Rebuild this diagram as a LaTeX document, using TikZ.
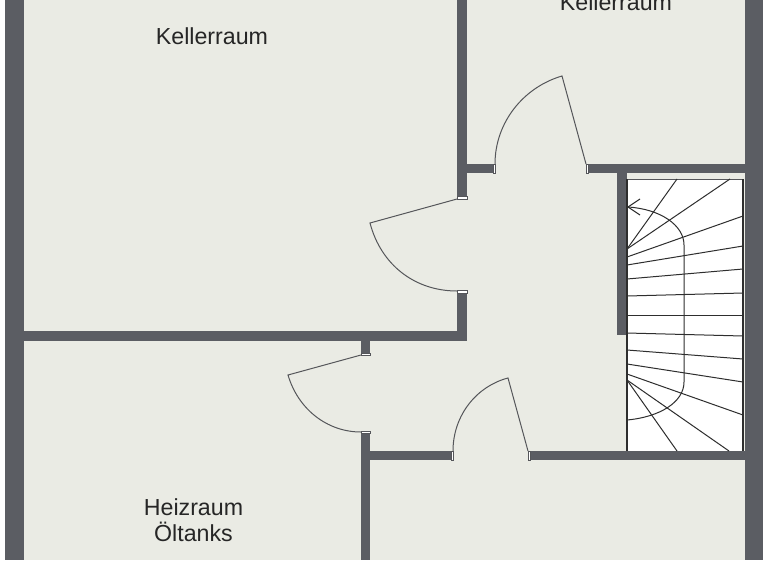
\documentclass[tikz,border=0pt]{standalone}
\usepackage{fontspec}
\setmainfont{Liberation Sans}
\definecolor{wallc}{HTML}{5B5D63}
\definecolor{floorc}{HTML}{EAEBE4}
\definecolor{linec}{HTML}{55565A}
\tikzset{x=1pt,y=-1pt,
 wall/.style={fill=wallc,draw=none},
 jamb/.style={fill=white,draw=linec,line width=.6pt},
 door/.style={draw=linec,line width=1pt},
 tread/.style={draw=black!82,line width=1pt},
 lbl/.style={font=\fontsize{23.2}{26}\selectfont,text=black!85,align=center,inner sep=0pt}}
\begin{document}
\begin{tikzpicture}
\useasboundingbox (0,0) rectangle (768,560);
\fill[white] (0,0) rectangle (768,560);
\fill[floorc] (5,0) rectangle (763,560);
% outer walls
\fill[wall] (5,0) rectangle (24,560);
\fill[wall] (745,0) rectangle (763,560);
% walls
\fill[wall] (24,331) rectangle (467,341);
\fill[wall] (457,0) rectangle (467,199);
\fill[wall] (467,164) rectangle (495,173);
\fill[wall] (588,164) rectangle (745,173);
\fill[wall] (457,291) rectangle (467,341);
\fill[wall] (361,341) rectangle (370,355);
\fill[wall] (361,432) rectangle (370,560);
\fill[wall] (370,451) rectangle (451,460);
\fill[wall] (530,451) rectangle (745,460);
\fill[wall] (617,173) rectangle (627,335);
% stairs
\fill[white] (627,179) rectangle (743,451);
\draw[draw=linec,line width=.7pt] (627,179) -- (743,179);
\draw[tread,line width=1.2pt] (627,179) -- (627,451);
\draw[tread,line width=1.2pt] (743,179) -- (743,451);
\foreach \a/\b/\c/\d in {
 627/249/677/179, 627/249/730/179, 627/257/743/216, 627/265/743/246, 627/279/743/269,
 627/296/743/293, 627/315.4/743/315.4, 627/333/743/336, 627/350/743/359, 627/364/743/382,
 627/374/743/415, 627/380/677/451, 627/380/729/451}
 \draw[tread] (\a,\b) -- (\c,\d);
\draw[tread] (628,207) .. controls (660,209) and (684,225) .. (684,245) -- (684,382) .. controls (684,402) and (660,417) .. (627,420);
\draw[tread] (640,199) -- (628,207) -- (640,215);
% jambs
\draw[jamb] (457,196.5) rectangle (467,199.5);
\draw[jamb] (457,290.5) rectangle (467,293.5);
\draw[jamb] (493,164) rectangle (495.5,173);
\draw[jamb] (586,164) rectangle (588.5,173);
\draw[jamb] (361,353) rectangle (370,355.5);
\draw[jamb] (361,431) rectangle (370,433.5);
\draw[jamb] (451,451) rectangle (453,460);
\draw[jamb] (528,451) rectangle (530.5,460);
% doors
\draw[door] (457,199) -- (370,223) .. controls (381,265) and (415,291) .. (457,291);
\draw[door] (586,164) -- (562,76) .. controls (524,87) and (495,122) .. (495,164);
\draw[door] (361,355) -- (288,375) .. controls (298,409) and (327,432) .. (361,432);
\draw[door] (528,451) -- (508,378) .. controls (477,386) and (453,415) .. (453,451);
% labels
\node[lbl,anchor=base] (k1) at (212,44) {Kellerraum};
\node[lbl,anchor=base] (k2) at (616,10) {Kellerraum};
\node[lbl,anchor=base] (h1) at (193.5,515) {Heizraum};
\node[lbl,anchor=base] (h2) at (193.5,541) {Öltanks};
\end{tikzpicture}
\end{document}
